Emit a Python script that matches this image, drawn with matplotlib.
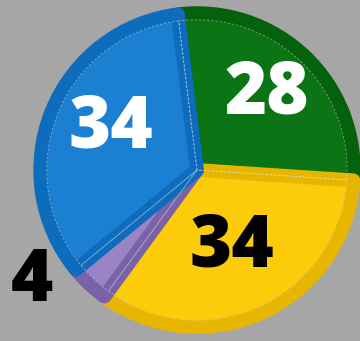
import matplotlib.pyplot as plt

values = [28, 34, 4, 34]
fill_colors = ["#0b7414", "#fccc0a", "#9b84c6", "#1b80d2"]
rim_colors = ["#05610c", "#e6b600", "#7a62a8", "#0e6cbd"]
text_colors = ["white", "black", "black", "white"]
label_pos = [(0.42, 0.46), (0.21, -0.47), (-1.0, -0.68), (-0.52, 0.25)]

fig = plt.figure(figsize=(3.6, 3.41), dpi=100)
fig.patch.set_facecolor("#a6a6a6")
ax = fig.add_axes([0, 0, 1, 1])
ax.set_facecolor("#a6a6a6")

# outer rim
outer, _ = ax.pie(values, colors=rim_colors, startangle=97, counterclock=False,
                  radius=0.98, wedgeprops=dict(edgecolor="#5a6a7a", linewidth=0.6))
# raised inner face, its thick edge kept inside its own slice
inner, _ = ax.pie(values, colors=fill_colors, startangle=97, counterclock=False,
                  radius=0.95, wedgeprops=dict(linewidth=10, joinstyle="round"))
for w, o, rc in zip(inner, outer, rim_colors):
    w.set_edgecolor(rc)
    w.set_clip_path(o)
dashes, _ = ax.pie(values, colors=["none"] * 4, startangle=97, counterclock=False,
                   radius=0.91, wedgeprops=dict(edgecolor="#e8e8e8", linewidth=0.6,
                                                linestyle=(0, (3, 2)), alpha=0.5))
for d, o in zip(dashes, outer):
    d.set_clip_path(o)

for v, (x, y), c in zip(values, label_pos, text_colors):
    ax.text(x, y, str(v), ha="center", va="center", color=c,
            fontsize=52, fontweight="heavy", family="Open Sans")

ax.set_xlim(-1.194, 0.988)
ax.set_ylim(-1.036, 1.030)
ax.set_aspect("auto")
ax.axis("off")

fig.savefig("out.png", dpi=100, facecolor=fig.get_facecolor())
